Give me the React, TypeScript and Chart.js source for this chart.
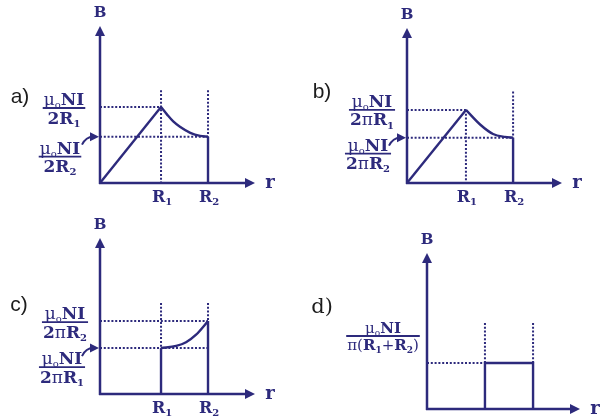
import React, { useEffect, useRef } from "react";
import { Chart, registerables } from "chart.js";

Chart.register(...registerables);

const INK = "#2d2a7c";
const TAG_INK = "#1c1c1c";
const SERIF = '"DejaVu Serif", "Liberation Serif", serif';
const SANS = '"Liberation Sans", Arial, sans-serif';

// Names of the two radii marked on the r axis
const rTickSubs = ["1", "2"];

// (a) B grows linearly to R1, then falls off towards R2
const aRiseR = [0, 1];
const aRiseB = [0, 1];
const aFallR = [1, 1.1, 1.2, 1.31, 1.48, 1.64, 1.77];
const aFallB = [1, 0.9, 0.81, 0.74, 0.66, 0.62, 0.61];
const aGuideTop = 1.22;

// (b) same shape, 2π in the denominators
const bRiseR = [0, 1];
const bRiseB = [0, 1];
const bFallR = [1, 1.24, 1.46, 1.66, 1.8];
const bFallB = [1, 0.8, 0.67, 0.63, 0.62];
const bGuideTop = 1.25;

// (c) B only between R1 and R2, rising outwards
const cRiseR = [1, 1.25, 1.41, 1.57, 1.77];
const cRiseB = [0.63, 0.66, 0.71, 0.81, 1.0];
const cGuideTop = 1.25;

// (d) constant B between R1 and R2
const dStepR = [1, 1, 1.83, 1.83];
const dStepB = [0, 1, 1, 0];
const dGuideTop = 1.87;

type Run = { t: string; bold?: boolean; sub?: boolean };
const nr = (t: string): Run => ({ t });
const bd = (t: string): Run => ({ t, bold: true });
const sb = (t: string): Run => ({ t, bold: true, sub: true });

const MU0NI: Run[] = [nr("μ"), { t: "o", sub: true }, bd("NI")];
const den2R = (k: string): Run[] => [bd("2R"), sb(k)];
const den2piR = (k: string): Run[] => [bd("2"), nr("π"), bd("R"), sb(k)];
const denSum: Run[] = [nr("π("), bd("R"), sb("1"), nr("+"), bd("R"), sb("2"), nr(")")];

const pts = (xs: number[], ys: number[]) => xs.map((x, i) => ({ x, y: ys[i] }));
const last = (a: number[]) => a[a.length - 1];

const solid = (data: { x: number; y: number }[], curved = false) => ({
  data,
  borderColor: INK,
  borderWidth: 2.4,
  pointRadius: 0,
  fill: false,
  clip: false as any,
  cubicInterpolationMode: curved ? ("monotone" as const) : ("default" as const),
  tension: 0,
});
const dotted = (data: { x: number; y: number }[]) => ({
  data,
  borderColor: INK,
  borderWidth: 2,
  borderDash: [2, 1.8],
  pointRadius: 0,
  fill: false,
  clip: false as any,
});

type Frac = { value: number; cx: number; dy: number; num: Run[]; den: Run[]; pointer?: boolean; size?: number };
type Panel = {
  key: string;
  box: [number, number, number, number];
  pad: { left: number; right: number; top: number; bottom: number };
  xMax: number;
  yMax: number;
  datasets: any[];
  ticks: number[];
  fracs: Frac[];
  tag: string;
  tagPos: [number, number];
  tagFont: string;
};

function panelA(): Panel {
  const R1 = aFallR[0], R2 = last(aFallR), B1 = aFallB[0], B2 = last(aFallB);
  return {
    key: "a",
    box: [0, 0, 300, 209],
    pad: { left: 100, right: 45, top: 26, bottom: 26 },
    xMax: 2.54,
    yMax: 2.066,
    datasets: [
      dotted([{ x: 0, y: B1 }, { x: R1, y: B1 }]),
      dotted([{ x: 0, y: B2 }, { x: R2, y: B2 }]),
      dotted([{ x: R1, y: aGuideTop }, { x: R1, y: 0 }]),
      dotted([{ x: R2, y: aGuideTop }, { x: R2, y: B2 }]),
      solid(pts(aRiseR, aRiseB)),
      solid(pts(aFallR, aFallB), true),
      solid([{ x: R2, y: B2 }, { x: R2, y: 0 }]),
    ],
    ticks: [R1, R2],
    fracs: [
      { value: B1, cx: 64, dy: 1, num: MU0NI, den: den2R("1") },
      { value: B2, cx: 60, dy: 20, num: MU0NI, den: den2R("2"), pointer: true },
    ],
    tag: "a)",
    tagPos: [20, 97],
    tagFont: `21px ${SANS}`,
  };
}

function panelB(): Panel {
  const R1 = bFallR[0], R2 = last(bFallR), B1 = bFallB[0], B2 = last(bFallB);
  return {
    key: "b",
    box: [300, 0, 300, 209],
    pad: { left: 107, right: 38, top: 28, bottom: 26 },
    xMax: 2.63,
    yMax: 2.12,
    datasets: [
      dotted([{ x: 0, y: B1 }, { x: R1, y: B1 }]),
      dotted([{ x: 0, y: B2 }, { x: R2, y: B2 }]),
      dotted([{ x: R1, y: B1 }, { x: R1, y: 0 }]),
      dotted([{ x: R2, y: bGuideTop }, { x: R2, y: B2 }]),
      solid(pts(bRiseR, bRiseB)),
      solid(pts(bFallR, bFallB), true),
      solid([{ x: R2, y: B2 }, { x: R2, y: 0 }]),
    ],
    ticks: [R1, R2],
    fracs: [
      { value: B1, cx: 72, dy: 0, num: MU0NI, den: den2piR("1") },
      { value: B2, cx: 68, dy: 16, num: MU0NI, den: den2piR("2"), pointer: true },
    ],
    tag: "b)",
    tagPos: [22, 92],
    tagFont: `21px ${SANS}`,
  };
}

function panelC(): Panel {
  const R1 = cRiseR[0], R2 = last(cRiseR), B1 = cRiseB[0], B2 = last(cRiseB);
  return {
    key: "c",
    box: [0, 209, 300, 209],
    pad: { left: 100, right: 45, top: 29, bottom: 24 },
    xMax: 2.54,
    yMax: 2.14,
    datasets: [
      dotted([{ x: 0, y: B2 }, { x: R2, y: B2 }]),
      dotted([{ x: 0, y: B1 }, { x: R2, y: B1 }]),
      dotted([{ x: R1, y: cGuideTop }, { x: R1, y: B1 }]),
      dotted([{ x: R2, y: cGuideTop }, { x: R2, y: B2 }]),
      solid([{ x: R1, y: 0 }, { x: R1, y: B1 }]),
      solid(pts(cRiseR, cRiseB), true),
      solid([{ x: R2, y: B2 }, { x: R2, y: 0 }]),
    ],
    ticks: [R1, R2],
    fracs: [
      { value: B2, cx: 65, dy: 1, num: MU0NI, den: den2piR("2") },
      { value: B1, cx: 62, dy: 19, num: MU0NI, den: den2piR("1"), pointer: true },
    ],
    tag: "c)",
    tagPos: [19, 96],
    tagFont: `21px ${SANS}`,
  };
}

function panelD(): Panel {
  const R1 = dStepR[0], R2 = last(dStepR), B1 = dStepB[1];
  return {
    key: "d",
    box: [300, 209, 300, 209],
    pad: { left: 127, right: 20, top: 44, bottom: 9 },
    xMax: 2.64,
    yMax: 3.39,
    datasets: [
      dotted([{ x: 0, y: B1 }, { x: R1, y: B1 }]),
      dotted([{ x: R1, y: dGuideTop }, { x: R1, y: B1 }]),
      dotted([{ x: R2, y: dGuideTop }, { x: R2, y: B1 }]),
      solid(pts(dStepR, dStepB)),
    ],
    ticks: [],
    fracs: [{ value: B1, cx: 83, dy: -27, num: MU0NI, den: denSum, size: 15 }],
    tag: "d)",
    tagPos: [22, 99],
    tagFont: `21px ${SERIF}`,
  };
}

const PANELS: Panel[] = [panelA(), panelB(), panelC(), panelD()];

function runFont(r: Run, size: number) {
  const s = r.sub ? Math.round(size * 0.6) : size;
  return `${r.bold ? "bold " : ""}${s}px ${SERIF}`;
}

function runsWidth(ctx: CanvasRenderingContext2D, runs: Run[], size: number) {
  let w = 0;
  for (const r of runs) {
    ctx.font = runFont(r, size);
    w += ctx.measureText(r.t).width;
  }
  return w;
}

function drawRuns(ctx: CanvasRenderingContext2D, runs: Run[], cx: number, baseline: number, size: number) {
  const w = runsWidth(ctx, runs, size);
  let x = cx - w / 2;
  ctx.textAlign = "left";
  ctx.textBaseline = "alphabetic";
  for (const r of runs) {
    ctx.font = runFont(r, size);
    ctx.fillText(r.t, x, baseline + (r.sub ? size * 0.18 : 0));
    x += ctx.measureText(r.t).width;
  }
  return w;
}

function drawFraction(ctx: CanvasRenderingContext2D, f: Frac, barY: number) {
  const size = f.size ?? 17;
  ctx.fillStyle = INK;
  const wn = drawRuns(ctx, f.num, f.cx, barY - 3, size);
  const wd = drawRuns(ctx, f.den, f.cx, barY + 3 + size * 0.74, size);
  const w = Math.max(wn, wd) + 2;
  ctx.strokeStyle = INK;
  ctx.lineWidth = 1.8;
  ctx.setLineDash([]);
  ctx.beginPath();
  ctx.moveTo(f.cx - w / 2, barY);
  ctx.lineTo(f.cx + w / 2, barY);
  ctx.stroke();
}

function drawPointer(ctx: CanvasRenderingContext2D, axisX: number, levelY: number) {
  const sx = axisX - 18;
  const sy = levelY + 8;
  const tipX = axisX - 1;
  ctx.strokeStyle = INK;
  ctx.fillStyle = INK;
  ctx.lineWidth = 2;
  ctx.beginPath();
  ctx.moveTo(sx, sy);
  ctx.quadraticCurveTo(sx + 4, levelY, tipX - 6, levelY);
  ctx.stroke();
  ctx.beginPath();
  ctx.moveTo(tipX, levelY);
  ctx.lineTo(tipX - 9, levelY - 4.5);
  ctx.lineTo(tipX - 9, levelY + 4.5);
  ctx.closePath();
  ctx.fill();
}

function makePlugin(p: Panel) {
  return {
    id: "diagram-" + p.key,
    afterDatasetsDraw(chart: any) {
      const { ctx, chartArea, scales } = chart;
      const { left, right, top, bottom } = chartArea;
      const xs = scales.x;
      const ys = scales.y;
      ctx.save();
      ctx.setLineDash([]);
      ctx.strokeStyle = INK;
      ctx.fillStyle = INK;
      ctx.lineWidth = 2.5;
      // axes with arrowheads
      ctx.beginPath();
      ctx.moveTo(left, bottom + 1);
      ctx.lineTo(left, top + 8);
      ctx.moveTo(left - 1, bottom);
      ctx.lineTo(right - 8, bottom);
      ctx.stroke();
      ctx.beginPath();
      ctx.moveTo(left, top);
      ctx.lineTo(left - 5, top + 10);
      ctx.lineTo(left + 5, top + 10);
      ctx.closePath();
      ctx.fill();
      ctx.beginPath();
      ctx.moveTo(right, bottom);
      ctx.lineTo(right - 10, bottom - 5);
      ctx.lineTo(right - 10, bottom + 5);
      ctx.closePath();
      ctx.fill();

      // axis titles
      ctx.textAlign = "center";
      ctx.textBaseline = "middle";
      ctx.font = `bold 15px ${SERIF}`;
      ctx.fillText("B", left, top - 13);
      ctx.font = `bold 18px ${SERIF}`;
      ctx.fillText("r", right + 15, bottom);

      // radius ticks
      p.ticks.forEach((v, i) => {
        drawRuns(ctx, [bd("R"), sb(rTickSubs[i])], xs.getPixelForValue(v) + 1, bottom + 19, 16);
      });

      // level labels
      for (const f of p.fracs) {
        const ly = ys.getPixelForValue(f.value);
        drawFraction(ctx, f, ly + f.dy);
        if (f.pointer) drawPointer(ctx, left, ly);
      }

      // panel tag
      ctx.fillStyle = TAG_INK;
      ctx.font = p.tagFont;
      ctx.textAlign = "center";
      ctx.textBaseline = "middle";
      ctx.fillText(p.tag, p.tagPos[0], p.tagPos[1]);
      ctx.restore();
    },
  };
}

function buildConfig(p: Panel): any {
  return {
    type: "line",
    data: { datasets: p.datasets },
    options: {
      animation: false,
      responsive: false,
      maintainAspectRatio: false,
      events: [],
      layout: { padding: p.pad },
      plugins: { legend: { display: false }, tooltip: { enabled: false } },
      scales: {
        x: { type: "linear", min: 0, max: p.xMax, display: false },
        y: { type: "linear", min: 0, max: p.yMax, display: false },
      },
    },
    plugins: [makePlugin(p)],
  };
}

export default function App() {
  const refs = useRef<(HTMLCanvasElement | null)[]>([]);
  useEffect(() => {
    const charts = PANELS.map((p, i) => new Chart(refs.current[i] as HTMLCanvasElement, buildConfig(p)));
    return () => charts.forEach((c) => c.destroy());
  }, []);
  return (
    <div
      style={{
        position: "absolute",
        left: 0,
        top: 0,
        width: 600,
        height: 418,
        background: "#fff",
        overflow: "hidden",
      }}
    >
      {PANELS.map((p, i) => (
        <canvas
          key={p.key}
          ref={(el) => {
            refs.current[i] = el;
          }}
          width={p.box[2]}
          height={p.box[3]}
          style={{ position: "absolute", left: p.box[0], top: p.box[1], width: p.box[2], height: p.box[3] }}
        />
      ))}
    </div>
  );
}
